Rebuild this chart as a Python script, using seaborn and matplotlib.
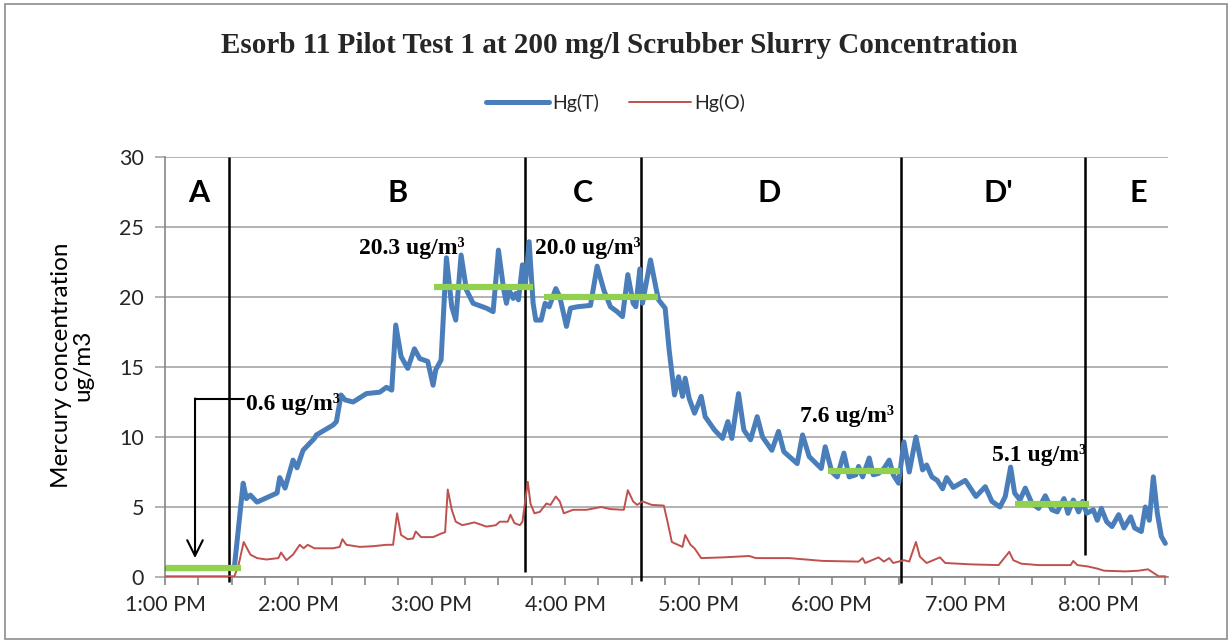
import matplotlib
matplotlib.use('Agg')
import matplotlib.pyplot as plt
from matplotlib.patches import Rectangle
from matplotlib.lines import Line2D
from matplotlib.ticker import MultipleLocator, FuncFormatter
import numpy as np
import pandas as pd
import seaborn as sns

# time axis in hours of the day (13 = 1:00 PM)
hgt_hours = [13.00, 13.25, 13.50, 13.52, 13.586, 13.61, 13.64, 13.69, 13.84, 13.86,
             13.90, 13.96, 13.99, 14.035, 14.06, 14.12, 14.135, 14.26, 14.285, 14.32,
             14.35, 14.41, 14.51, 14.61, 14.66, 14.70, 14.73, 14.77, 14.82, 14.87,
             14.91, 14.97, 15.01, 15.03, 15.07, 15.11, 15.15, 15.18, 15.22, 15.26,
             15.31, 15.41, 15.46, 15.50, 15.54, 15.56, 15.58, 15.61, 15.63, 15.65,
             15.68, 15.70, 15.73, 15.76, 15.78, 15.82, 15.85, 15.88, 15.93, 15.96,
             16.01, 16.04, 16.09, 16.19, 16.24, 16.29, 16.34, 16.39, 16.43, 16.47,
             16.51, 16.53, 16.56, 16.58, 16.64, 16.68, 16.70, 16.75, 16.78, 16.82,
             16.85, 16.88, 16.90, 16.93, 16.97, 17.00, 17.02, 17.05, 17.12, 17.18,
             17.22, 17.25, 17.30, 17.34, 17.39, 17.44, 17.48, 17.55, 17.60, 17.64,
             17.74, 17.78, 17.83, 17.92, 17.95, 18.00, 18.04, 18.09, 18.13, 18.18,
             18.20, 18.23, 18.28, 18.31, 18.35, 18.39, 18.43, 18.46, 18.50, 18.54,
             18.58, 18.63, 18.68, 18.71, 18.75, 18.79, 18.83, 18.86, 18.91, 19.00,
             19.08, 19.15, 19.20, 19.26, 19.30, 19.34, 19.37, 19.41, 19.45, 19.50,
             19.55, 19.60, 19.65, 19.69, 19.74, 19.77, 19.81, 19.85, 19.88, 19.91,
             19.96, 19.99, 20.02, 20.06, 20.10, 20.15, 20.19, 20.24, 20.27, 20.32,
             20.35, 20.38, 20.41, 20.44, 20.47, 20.50]
hgt_values = [0.6, 0.6, 0.65, 0.7, 6.7, 5.6, 5.85, 5.35, 6.0, 7.1,
              6.35, 8.35, 7.8, 9.05, 9.3, 9.9, 10.15, 10.85, 11.1, 13.0,
              12.65, 12.5, 13.1, 13.2, 13.55, 13.35, 18.0, 15.75, 14.9, 16.3,
              15.6, 15.4, 13.7, 14.8, 15.5, 22.8, 19.3, 18.35, 23.0, 20.5,
              19.55, 19.2, 18.95, 23.35, 20.5, 19.55, 20.5, 19.9, 20.25, 19.8,
              22.3, 20.7, 23.95, 19.55, 18.35, 18.35, 19.55, 19.3, 20.6, 20.0,
              17.9, 19.2, 19.3, 19.4, 22.2, 20.5, 19.3, 18.95, 18.6, 21.6,
              19.55, 19.3, 22.0, 19.55, 22.65, 20.7, 19.8, 19.2, 16.2, 13.0,
              14.3, 12.9, 14.2, 12.75, 11.7, 12.4, 12.9, 11.45, 10.5, 9.9,
              11.1, 9.9, 13.1, 10.5, 9.8, 11.45, 10.0, 9.05, 10.4, 8.95,
              8.1, 10.15, 8.6, 7.75, 9.3, 7.5, 7.15, 8.85, 7.15, 7.3,
              7.9, 7.15, 8.5, 7.3, 7.4, 7.75, 8.35, 7.3, 6.7, 9.65,
              7.5, 10.0, 7.65, 8.0, 7.15, 6.9, 6.3, 7.1, 6.4, 6.9,
              5.75, 6.45, 5.4, 5.0, 5.75, 7.85, 6.0, 5.5, 6.35, 5.25,
              4.9, 5.8, 4.8, 4.65, 5.6, 4.55, 5.5, 4.65, 5.4, 4.55,
              4.8, 4.05, 4.9, 3.95, 3.6, 4.45, 3.5, 4.3, 3.5, 3.25,
              5.0, 4.05, 7.15, 4.55, 2.9, 2.4]

hgo_hours = [13.00, 13.52, 13.55, 13.59, 13.64, 13.69, 13.76, 13.85, 13.87, 13.91,
             13.96, 14.01, 14.04, 14.07, 14.12, 14.26, 14.31, 14.33, 14.36, 14.46,
             14.56, 14.66, 14.71, 14.74, 14.77, 14.82, 14.86, 14.88, 14.92, 15.01,
             15.07, 15.10, 15.12, 15.15, 15.18, 15.23, 15.32, 15.41, 15.48, 15.51,
             15.57, 15.59, 15.62, 15.66, 15.68, 15.72, 15.74, 15.77, 15.81, 15.86,
             15.89, 15.93, 15.96, 15.99, 16.06, 16.16, 16.27, 16.34, 16.44, 16.47,
             16.51, 16.54, 16.58, 16.65, 16.74, 16.77, 16.80, 16.88, 16.90, 16.94,
             16.97, 17.02, 17.18, 17.38, 17.43, 17.68, 17.93, 18.20, 18.23, 18.25,
             18.35, 18.39, 18.43, 18.46, 18.54, 18.58, 18.63, 18.66, 18.71, 18.81,
             18.85, 18.95, 19.05, 19.25, 19.33, 19.36, 19.42, 19.55, 19.79, 19.81,
             19.84, 19.92, 19.99, 20.04, 20.20, 20.30, 20.37, 20.41, 20.45, 20.50]
hgo_values = [0.05, 0.05, 0.8, 2.5, 1.6, 1.35, 1.25, 1.35, 1.75, 1.2,
              1.6, 2.3, 2.05, 2.3, 2.05, 2.05, 2.15, 2.7, 2.3, 2.15,
              2.2, 2.3, 2.3, 4.55, 3.0, 2.7, 2.75, 3.25, 2.85, 2.85,
              3.1, 3.2, 6.25, 4.8, 3.95, 3.7, 3.9, 3.6, 3.7, 3.95,
              3.95, 4.45, 3.85, 3.7, 3.95, 6.8, 5.25, 4.55, 4.65, 5.25,
              5.15, 5.75, 5.4, 4.55, 4.8, 4.8, 5.0, 4.85, 4.8, 6.2,
              5.4, 5.15, 5.4, 5.15, 5.1, 3.85, 2.5, 2.15, 3.0, 2.3,
              2.05, 1.35, 1.4, 1.5, 1.35, 1.35, 1.15, 1.1, 1.35, 1.0,
              1.4, 1.1, 1.35, 1.0, 1.2, 1.1, 2.5, 1.45, 1.0, 1.4,
              1.0, 0.95, 0.9, 0.85, 1.8, 1.2, 0.95, 0.85, 0.85, 1.15,
              0.85, 0.75, 0.6, 0.45, 0.4, 0.45, 0.55, 0.3, 0.05, 0.05]

# test phases
phase_names = ['A', 'B', 'C', 'D', "D'", 'E']
phase_label_hours = [13.25, 14.74, 16.13, 17.53, 19.25, 20.30]
phase_bounds = [13.48, 15.70, 16.57, 18.52, 19.90]
phase_bound_bottom = [-0.35, 0.35, -0.3, -0.4, 1.55]

# average levels (green bars)
avg_start = [13.01, 15.02, 15.84, 17.97, 19.37]
avg_end = [13.57, 15.76, 16.70, 18.51, 19.93]
avg_level = [0.65, 20.7, 20.0, 7.6, 5.2]
avg_text = ['0.6 ug/m\u00b3', '20.3 ug/m\u00b3', '20.0 ug/m\u00b3',
            '7.6 ug/m\u00b3', '5.1 ug/m\u00b3']
avg_text_x = [13.61, 14.85, 16.17, 18.11, 19.55]
avg_text_y = [11.9, 23.1, 23.1, 11.1, 8.25]

sns.set_style('white')
plt.rcParams['font.family'] = ['Lato', 'DejaVu Sans']

fig = plt.figure(figsize=(12.32, 6.43), dpi=100)
fig.patch.set_facecolor('white')
fig.patches.append(Rectangle((0.004, 0.006), 0.992, 0.988, transform=fig.transFigure,
                             fill=False, edgecolor='#8c8c8c', linewidth=1.2))
ax = fig.add_axes([165 / 1232, 66 / 643, 1003 / 1232, 420 / 643])

dft = pd.DataFrame({'t': hgt_hours, 'v': hgt_values})
dfo = pd.DataFrame({'t': hgo_hours, 'v': hgo_values})
sns.lineplot(x='t', y='v', data=dft, ax=ax, color='#4a7ebb', linewidth=3.6,
             estimator=None, sort=False, zorder=4)
sns.lineplot(x='t', y='v', data=dfo, ax=ax, color='#c0504d', linewidth=1.4,
             estimator=None, sort=False, zorder=4)

# phase separators and names
ax.vlines(phase_bounds, phase_bound_bottom, 30, colors='black', linewidth=1.8,
          zorder=3, clip_on=False)
for name, xh in zip(phase_names, phase_label_hours):
    ax.text(xh, 27.4, name, ha='center', va='center', fontsize=22,
            fontweight='bold', color='black')

# averages
ax.hlines(avg_level, avg_start, avg_end, colors='#92d050', linewidth=4.5, zorder=5)
for txt, xh, yv in zip(avg_text, avg_text_x, avg_text_y):
    ha = 'left' if txt.startswith('0.6') else 'center'
    ax.text(xh, yv, txt, ha=ha, va='baseline', fontsize=17, fontweight='bold',
            family=['Liberation Serif', 'DejaVu Serif'], color='black', zorder=6)

# arrow pointing from the 0.6 label down to phase A
ax.plot([13.225, 13.59], [12.7, 12.7], color='black', linewidth=1.5, zorder=6)
ax.annotate('', xy=(13.225, 1.35), xytext=(13.225, 12.75),
            arrowprops=dict(arrowstyle='->', color='black', lw=1.5,
                            mutation_scale=28, shrinkA=0, shrinkB=0), zorder=6)

ax.set_xlim(13.0, 20.52)
ax.set_ylim(0, 30)
ax.yaxis.set_major_locator(MultipleLocator(5))
ax.xaxis.set_major_locator(MultipleLocator(1))
ax.xaxis.set_minor_locator(MultipleLocator(0.25))
ax.xaxis.set_major_formatter(FuncFormatter(lambda v, p: f'{int(round(v)) - 12}:00 PM'))
ax.grid(axis='y', color='#a6a6a6', linewidth=1.2, zorder=0)
ax.set_axisbelow(True)
for side in ['top', 'right']:
    ax.spines[side].set_visible(False)
for side in ['left', 'bottom']:
    ax.spines[side].set_color('#868686')
    ax.spines[side].set_linewidth(1.2)
ax.tick_params(axis='x', which='both', direction='out', length=6, width=1.2,
               color='#868686', bottom=True, labelsize=15.5, labelcolor='#262626', pad=7)
ax.tick_params(axis='y', direction='out', length=7, width=1.2, color='#a6a6a6',
               left=True, labelsize=15.5, labelcolor='#262626', pad=8)
ax.set_xlabel('')
ax.set_ylabel('')

fig.text(72 / 1232, 0.432, 'Mercury concentration\nug/m3', rotation=90,
         ha='center', va='center', multialignment='center', fontsize=17.5,
         color='black', linespacing=1.05)

fig.text(0.503, 0.93, 'Esorb 11 Pilot Test 1 at 200 mg/l Scrubber Slurry Concentration',
         ha='center', va='center', fontsize=21, fontweight='bold',
         family=['Liberation Serif', 'DejaVu Serif'])

handles = [Line2D([], [], color='#4a7ebb', linewidth=3.6),
           Line2D([], [], color='#c0504d', linewidth=1.4)]
fig.legend(handles, ['Hg(T)', 'Hg(O)'], loc='center', bbox_to_anchor=(0.5, 0.84),
           ncol=2, frameon=False, fontsize=14, handlelength=3.2, columnspacing=1.5,
           handletextpad=0.2)

plt.savefig('out.png', dpi=100)
plt.close()
